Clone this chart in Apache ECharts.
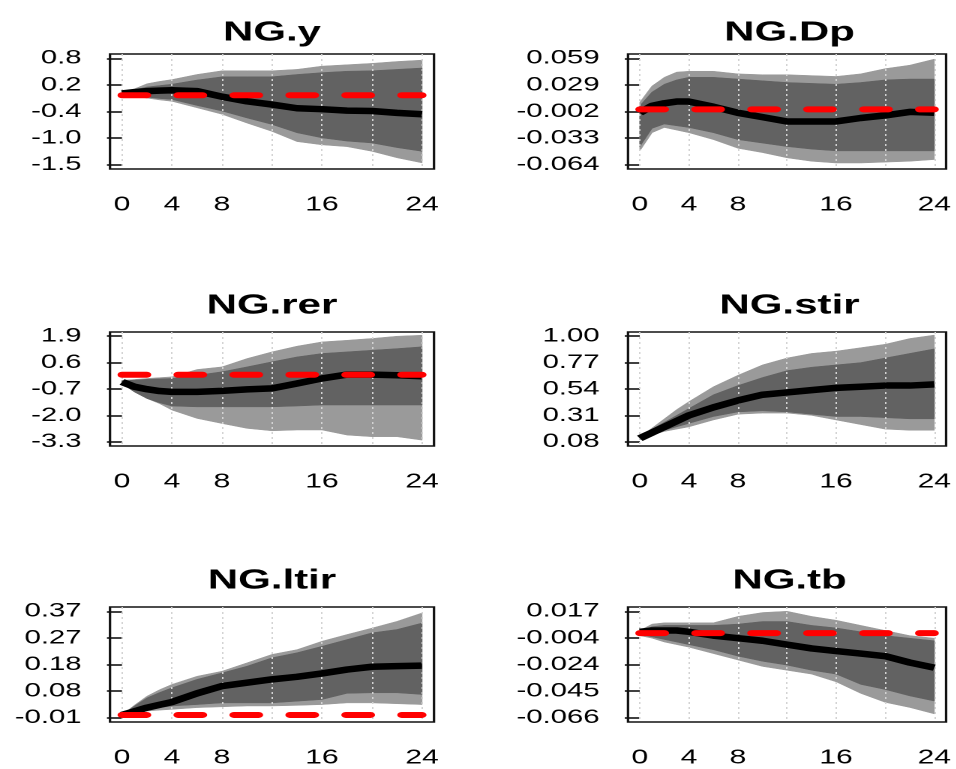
<!DOCTYPE html>
<html>
<head>
<meta charset="utf-8">
<script src="https://cdn.jsdelivr.net/npm/echarts@6.0.0/dist/echarts.min.js"></script>
<style>
html, body { margin: 0; padding: 0; background: #fff; }
/* the reference picture is stretched sideways, so the chart is drawn narrow and widened */
#main { width: 637.33px; height: 769px; transform: scaleX(1.5); transform-origin: 0 0; }
</style>
</head>
<body>
<div id="main"></div>
<script>
// horizons (quarters)
var horizons = [0, 1, 2, 3, 4, 6, 8, 10, 12, 14, 16, 18, 20, 22, 24];
var xLabelTicks = [0, 4, 8, 16, 24];
var xGridTicks = [0, 4, 8, 12, 16, 20, 24];

// NG.y
var yMed     = [0.04, 0.07, 0.09, 0.10, 0.11, 0.09, -0.03, -0.13, -0.20, -0.28, -0.30, -0.33, -0.34, -0.38, -0.41];
var yOuterHi = [0.04, 0.14, 0.25, 0.30, 0.34, 0.45, 0.53, 0.53, 0.53, 0.56, 0.63, 0.66, 0.69, 0.73, 0.76];
var yInnerHi = [0.04, 0.12, 0.18, 0.21, 0.24, 0.33, 0.40, 0.40, 0.40, 0.45, 0.49, 0.52, 0.53, 0.56, 0.59];
var yInnerLo = [0.02, -0.01, -0.04, -0.07, -0.09, -0.22, -0.34, -0.49, -0.63, -0.81, -0.92, -0.99, -1.03, -1.13, -1.21];
var yOuterLo = [0.02, -0.03, -0.06, -0.10, -0.13, -0.27, -0.41, -0.60, -0.78, -1.00, -1.07, -1.11, -1.21, -1.35, -1.46];
var yTickLabels = ['0.8', '0.2', '-0.4', '-1.0', '-1.5'];

// NG.Dp
var dpMed     = [-0.004, 0.004, 0.007, 0.009, 0.009, 0.003, -0.004, -0.009, -0.014, -0.014, -0.014, -0.010, -0.007, -0.003, -0.004];
var dpOuterHi = [0.008, 0.027, 0.037, 0.043, 0.044, 0.044, 0.041, 0.040, 0.040, 0.039, 0.038, 0.041, 0.047, 0.051, 0.058];
var dpInnerHi = [0.004, 0.020, 0.029, 0.034, 0.037, 0.037, 0.035, 0.033, 0.031, 0.030, 0.029, 0.031, 0.034, 0.035, 0.035];
var dpInnerLo = [-0.043, -0.022, -0.017, -0.019, -0.021, -0.027, -0.035, -0.039, -0.043, -0.046, -0.048, -0.048, -0.048, -0.048, -0.048];
var dpOuterLo = [-0.048, -0.027, -0.021, -0.024, -0.027, -0.035, -0.045, -0.050, -0.056, -0.060, -0.062, -0.062, -0.061, -0.060, -0.058];
var dpTickLabels = ['0.059', '0.029', '-0.002', '-0.033', '-0.064'];

// NG.rer
var rerMed     = [-0.35, -0.59, -0.71, -0.80, -0.84, -0.84, -0.79, -0.72, -0.67, -0.43, -0.18, 0.01, 0.01, -0.02, -0.07];
var rerOuterHi = [-0.27, -0.23, -0.18, -0.14, -0.10, 0.26, 0.39, 0.80, 1.13, 1.41, 1.62, 1.70, 1.79, 1.90, 1.95];
var rerInnerHi = [-0.30, -0.26, -0.22, -0.20, -0.18, -0.02, 0.15, 0.39, 0.64, 0.88, 1.05, 1.13, 1.21, 1.29, 1.38];
var rerInnerLo = [-0.43, -0.85, -1.17, -1.38, -1.54, -1.58, -1.58, -1.58, -1.58, -1.54, -1.49, -1.49, -1.49, -1.49, -1.49];
var rerOuterLo = [-0.43, -0.85, -1.17, -1.42, -1.74, -2.15, -2.40, -2.64, -2.76, -2.72, -2.72, -2.97, -3.05, -3.05, -3.22];
var rerTickLabels = ['1.9', '0.6', '-0.7', '-2.0', '-3.3'];

// NG.stir
var stirMed     = [0.11, 0.16, 0.21, 0.26, 0.31, 0.38, 0.44, 0.49, 0.51, 0.53, 0.55, 0.56, 0.57, 0.57, 0.58];
var stirOuterHi = [0.12, 0.20, 0.28, 0.36, 0.43, 0.56, 0.66, 0.75, 0.81, 0.85, 0.87, 0.90, 0.93, 0.98, 1.01];
var stirInnerHi = [0.12, 0.19, 0.25, 0.31, 0.37, 0.49, 0.57, 0.64, 0.70, 0.73, 0.75, 0.77, 0.81, 0.85, 0.89];
var stirInnerLo = [0.10, 0.15, 0.18, 0.21, 0.24, 0.30, 0.34, 0.35, 0.34, 0.32, 0.30, 0.30, 0.29, 0.28, 0.28];
var stirOuterLo = [0.10, 0.14, 0.17, 0.19, 0.21, 0.27, 0.32, 0.33, 0.33, 0.31, 0.27, 0.23, 0.19, 0.18, 0.18];
var stirTickLabels = ['1.00', '0.77', '0.54', '0.31', '0.08'];

// NG.ltir
var ltirMed     = [0.000, 0.013, 0.026, 0.036, 0.046, 0.077, 0.103, 0.115, 0.127, 0.136, 0.148, 0.162, 0.172, 0.174, 0.176];
var ltirOuterHi = [0.000, 0.035, 0.067, 0.090, 0.109, 0.138, 0.156, 0.186, 0.216, 0.233, 0.263, 0.287, 0.310, 0.334, 0.364];
var ltirInnerHi = [0.000, 0.032, 0.061, 0.080, 0.097, 0.127, 0.150, 0.174, 0.204, 0.222, 0.245, 0.269, 0.293, 0.305, 0.328];
var ltirInnerLo = [0.000, 0.010, 0.020, 0.026, 0.032, 0.037, 0.043, 0.043, 0.043, 0.049, 0.055, 0.077, 0.079, 0.079, 0.073];
var ltirOuterLo = [0.000, 0.007, 0.014, 0.017, 0.020, 0.026, 0.029, 0.032, 0.032, 0.034, 0.037, 0.043, 0.043, 0.040, 0.037];
var ltirTickLabels = ['0.37', '0.27', '0.18', '0.08', '-0.01'];

// NG.tb
var tbMed     = [0.001, 0.002, 0.002, 0.002, 0.001, -0.002, -0.004, -0.006, -0.009, -0.012, -0.014, -0.016, -0.018, -0.023, -0.027];
var tbOuterHi = [0.002, 0.007, 0.008, 0.008, 0.008, 0.008, 0.013, 0.016, 0.017, 0.013, 0.010, 0.006, 0.002, -0.002, -0.004];
var tbInnerHi = [0.001, 0.005, 0.006, 0.006, 0.006, 0.006, 0.007, 0.009, 0.009, 0.006, 0.004, 0.001, -0.002, -0.004, -0.006];
var tbInnerLo = [-0.001, -0.003, -0.005, -0.007, -0.009, -0.013, -0.018, -0.022, -0.025, -0.029, -0.032, -0.040, -0.044, -0.049, -0.053];
var tbOuterLo = [-0.002, -0.004, -0.007, -0.009, -0.011, -0.016, -0.021, -0.026, -0.029, -0.032, -0.038, -0.047, -0.054, -0.058, -0.063];
var tbTickLabels = ['0.017', '-0.004', '-0.024', '-0.045', '-0.066'];

var panels = [
    { title: 'NG.y',    med: yMed,    oHi: yOuterHi,    iHi: yInnerHi,    iLo: yInnerLo,    oLo: yOuterLo,    labels: yTickLabels,    top: 0.8,   bottom: -1.5 },
    { title: 'NG.Dp',   med: dpMed,   oHi: dpOuterHi,   iHi: dpInnerHi,   iLo: dpInnerLo,   oLo: dpOuterLo,   labels: dpTickLabels,   top: 0.059, bottom: -0.064 },
    { title: 'NG.rer',  med: rerMed,  oHi: rerOuterHi,  iHi: rerInnerHi,  iLo: rerInnerLo,  oLo: rerOuterLo,  labels: rerTickLabels,  top: 1.9,   bottom: -3.3 },
    { title: 'NG.stir', med: stirMed, oHi: stirOuterHi, iHi: stirInnerHi, iLo: stirInnerLo, oLo: stirOuterLo, labels: stirTickLabels, top: 1.0,   bottom: 0.08 },
    { title: 'NG.ltir', med: ltirMed, oHi: ltirOuterHi, iHi: ltirInnerHi, iLo: ltirInnerLo, oLo: ltirOuterLo, labels: ltirTickLabels, top: 0.37,  bottom: -0.01 },
    { title: 'NG.tb',   med: tbMed,   oHi: tbOuterHi,   iHi: tbInnerHi,   iLo: tbInnerLo,   oLo: tbOuterLo,   labels: tbTickLabels,   top: 0.017, bottom: -0.066 }
];

// layout (in the narrow, unstretched space)
var colLeft = [73.33, 418.67];
var colWidth = [216, 215.33];
var rowTop = [54, 332, 607];
var rowHeight = [115, 114, 115];
var titleTop = [19, 292, 567];

var lightGrey = '#9a9a9a';
var darkGrey = '#626262';

// one polygon per band, built from every row of the series data
function bandPolygon(color) {
    return function (params, api) {
        if (params.dataIndexInside !== 0) return null;
        var lower = [], upper = [];
        for (var k = 0; k < params.dataInsideLength; k++) {
            lower.push(api.coord([api.value(0, k), api.value(1, k)]));
            upper.push(api.coord([api.value(0, k), api.value(2, k)]));
        }
        return {
            type: 'polygon',
            shape: { points: lower.concat(upper.reverse()) },
            style: { fill: color, stroke: color, lineWidth: 0.5 }
        };
    };
}

var myChart = echarts.init(document.getElementById('main'), null, { devicePixelRatio: 2 });

var grids = [], xAxes = [], yAxes = [], series = [], titles = [];

panels.forEach(function (p, i) {
    var col = i % 2, row = Math.floor(i / 2);
    grids.push({
        left: colLeft[col], top: rowTop[row], width: colWidth[col], height: rowHeight[row],
        show: true, borderColor: '#111', borderWidth: 1.6, containLabel: false
    });
    titles.push({
        text: p.title,
        left: colLeft[col] + colWidth[col] / 2,
        top: titleTop[row],
        textAlign: 'center',
        padding: 0,
        textStyle: { fontFamily: 'Liberation Sans, Arial', fontWeight: 'bold', fontSize: 28, color: '#000' }
    });

    var span = p.top - p.bottom;
    var yMin = p.bottom - 0.04 * span, yMax = p.top + 0.04 * span;
    var ticks = p.labels.map(function (l, k) { return p.top - k * span / (p.labels.length - 1); });

    xAxes.push({
        type: 'value', gridIndex: i, min: -0.96, max: 24.96, z: 3,
        axisLine: { show: false },
        axisTick: { show: false, customValues: xGridTicks },
        axisLabel: {
            customValues: xLabelTicks, margin: 26, fontSize: 20,
            fontFamily: 'Liberation Sans, Arial', color: '#000'
        },
        splitLine: { show: true, lineStyle: { color: '#d3d3d3', type: [2, 3], width: 1 } }
    });
    yAxes.push({
        type: 'value', gridIndex: i, min: yMin, max: yMax,
        axisLine: { show: false },
        axisTick: { show: true, length: 10, customValues: ticks, lineStyle: { color: '#111', width: 1.6 } },
        axisLabel: {
            customValues: ticks, margin: 19, fontSize: 19.5,
            fontFamily: 'Liberation Sans, Arial', color: '#000',
            formatter: function (v) {
                var best = 0;
                ticks.forEach(function (t, k) { if (Math.abs(t - v) < Math.abs(ticks[best] - v)) best = k; });
                return p.labels[best];
            }
        },
        splitLine: { show: false }
    });

    series.push({
        type: 'custom', xAxisIndex: i, yAxisIndex: i, silent: true, z: 1,
        renderItem: bandPolygon(lightGrey),
        encode: { x: 0, y: [1, 2] },
        data: horizons.map(function (h, j) { return [h, p.oLo[j], p.oHi[j]]; })
    });
    series.push({
        type: 'custom', xAxisIndex: i, yAxisIndex: i, silent: true, z: 2,
        renderItem: bandPolygon(darkGrey),
        encode: { x: 0, y: [1, 2] },
        data: horizons.map(function (h, j) { return [h, p.iLo[j], p.iHi[j]]; })
    });
    series.push({
        type: 'line', xAxisIndex: i, yAxisIndex: i,
        symbol: 'none', silent: true, z: 5,
        lineStyle: { color: '#000', width: 6.5 },
        data: horizons.map(function (h, j) { return [h, p.med[j]]; })
    });
    // zero line, only where zero lies inside the plot box (like R clipping abline)
    if (yMin < 0 && yMax > 0) {
        series.push({
            type: 'line', xAxisIndex: i, yAxisIndex: i,
            symbol: 'none', silent: true, z: 6,
            lineStyle: { color: '#ff0000', width: 6, type: [16.5, 20.8], cap: 'round' },
            data: horizons.map(function (h) { return [h, 0]; })
        });
    }
});

var option = {
    backgroundColor: '#fff',
    animation: false,
    title: titles,
    grid: grids,
    xAxis: xAxes,
    yAxis: yAxes,
    series: series
};
myChart.setOption(option);
</script>
</body>
</html>
